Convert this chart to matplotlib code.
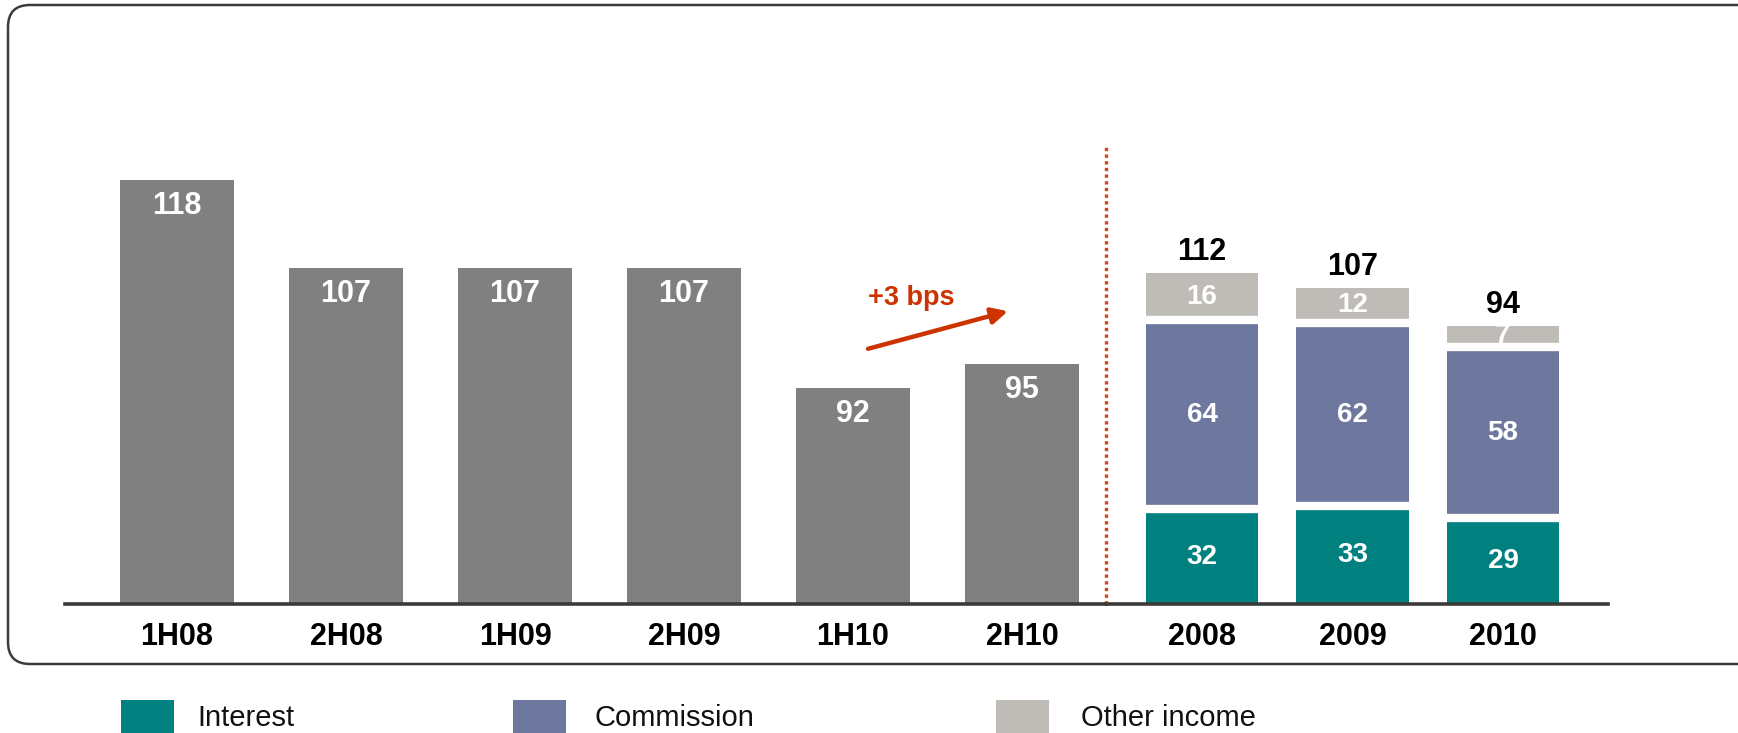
import matplotlib
matplotlib.use("Agg")
import matplotlib.pyplot as plt
import numpy as np
from matplotlib.patches import FancyBboxPatch, Rectangle

plt.rcParams['font.family'] = ['Liberation Sans', 'DejaVu Sans']

# ---- data ----
half_labels = ['1H08', '2H08', '1H09', '2H09', '1H10', '2H10']
half_values = [118, 107, 107, 107, 92, 95]

years = ['2008', '2009', '2010']
interest = [32, 33, 29]
commission = [64, 62, 58]
other_income = [16, 12, 7]
totals = [112, 107, 94]

series_names = ['Interest', 'Commission', 'Other income']
series_colors = ['#00807F', '#6E789E', '#BFBCB7']
gray = '#808080'
red = '#CC3300'

W, H = 1738, 733
fig = plt.figure(figsize=(W / 100, H / 100), dpi=100)


def fx(px):
    return px / W


def fy(py):
    return 1 - py / H


ax_top, ax_bot = 60, 604
ax1 = fig.add_axes([fx(65), fy(ax_bot), fx(1106) - fx(65), fy(ax_top) - fy(ax_bot)])
ax2 = fig.add_axes([fx(1106), fy(ax_bot), fx(1608) - fx(1106), fy(ax_top) - fy(ax_bot)])

# ---- left: half-year bars ----
x1 = np.arange(len(half_labels))
ax1.bar(x1, half_values, width=0.67, color=gray, linewidth=0)
ax1.set_xlim(-0.663, 5.497)
ax1.set_ylim(65, 133)
for xi, v in zip(x1, half_values):
    ax1.annotate(str(v), (xi, v), xytext=(0, -19), textcoords='offset points',
                 ha='center', va='center', color='white', fontweight='bold', fontsize=22)

ax1.annotate('', xy=(4.917, 101.6), xytext=(4.089, 96.9),
             arrowprops=dict(arrowstyle='-|>', color=red, lw=3.2, mutation_scale=24,
                             shrinkA=0, shrinkB=0))
ax1.text(4.343, 103.3, '+3 bps', color=red, fontweight='bold', fontsize=19.5,
         ha='center', va='center')

# ---- right: stacked yearly bars ----
x2 = np.arange(len(years))
bw = 0.75
b1 = np.array(interest)
b2 = b1 + np.array(commission)
ax2.bar(x2, interest, width=bw, color=series_colors[0], linewidth=0)
ax2.bar(x2, commission, width=bw, bottom=b1, color=series_colors[1], linewidth=0)
ax2.bar(x2, other_income, width=bw, bottom=b2, color=series_colors[2], linewidth=0)
ax2.hlines(b1, x2 - bw / 2 - 0.01, x2 + bw / 2 + 0.01, color='white', lw=6)
ax2.hlines(b2, x2 - bw / 2 - 0.01, x2 + bw / 2 + 0.01, color='white', lw=6)
ax2.set_xlim(-0.638, 2.698)
ax2.set_ylim(0, 184)

for xi, a, c, o, t in zip(x2, interest, commission, other_income, totals):
    ax2.text(xi, a / 2, str(a), ha='center', va='center', color='white', fontweight='bold', fontsize=20, zorder=4)
    ax2.text(xi, a + c / 2, str(c), ha='center', va='center', color='white', fontweight='bold', fontsize=20, zorder=4)
    ax2.text(xi, a + c + o / 2, str(o), ha='center', va='center', color='white', fontweight='bold', fontsize=20, zorder=4)
    ax2.annotate(str(t), (xi, t), xytext=(0, 15), textcoords='offset points',
                 ha='center', va='center', color='black', fontweight='bold', fontsize=22)

ax2.axvline(-0.638, ymin=0, ymax=(ax_bot - 147) / (ax_bot - ax_top), color='#D9431C',
            lw=2.4, linestyle=(0, (1, 1)), clip_on=False)

for ax, labels, xs in ((ax1, half_labels, x1), (ax2, years, x2)):
    for s in ('left', 'right', 'top'):
        ax.spines[s].set_visible(False)
    ax.spines['bottom'].set_color('#3a3a3a')
    ax.spines['bottom'].set_linewidth(2.6)
    ax.spines['bottom'].set_zorder(5)
    ax.set_yticks([])
    ax.set_xticks(xs, labels)
    ax.tick_params(axis='x', length=0, pad=13, labelsize=22)
    for lab in ax.get_xticklabels():
        lab.set_fontweight('bold')
    ax.patch.set_alpha(0)

# ---- frame ----
frame = FancyBboxPatch((8 / 100, (H - 664) / 100), (1800 - 8) / 100, (664 - 5) / 100,
                       boxstyle='round,pad=0,rounding_size=0.22',
                       transform=fig.dpi_scale_trans, fill=False,
                       ec='#3c3c3c', lw=1.8)
fig.add_artist(frame)

# ---- legend ----
leg_sq_x = [121, 513, 996]
leg_txt_x = [197, 595, 1081]
for name, col, sx, tx in zip(series_names, series_colors, leg_sq_x, leg_txt_x):
    fig.add_artist(Rectangle((sx / 100, 0), 53 / 100, 33 / 100, transform=fig.dpi_scale_trans,
                             facecolor=col, edgecolor='none'))
    fig.text(fx(tx), fy(718), name, fontsize=21, va='center', ha='left', color='#111111')

fig.savefig('out.png', dpi=100)
